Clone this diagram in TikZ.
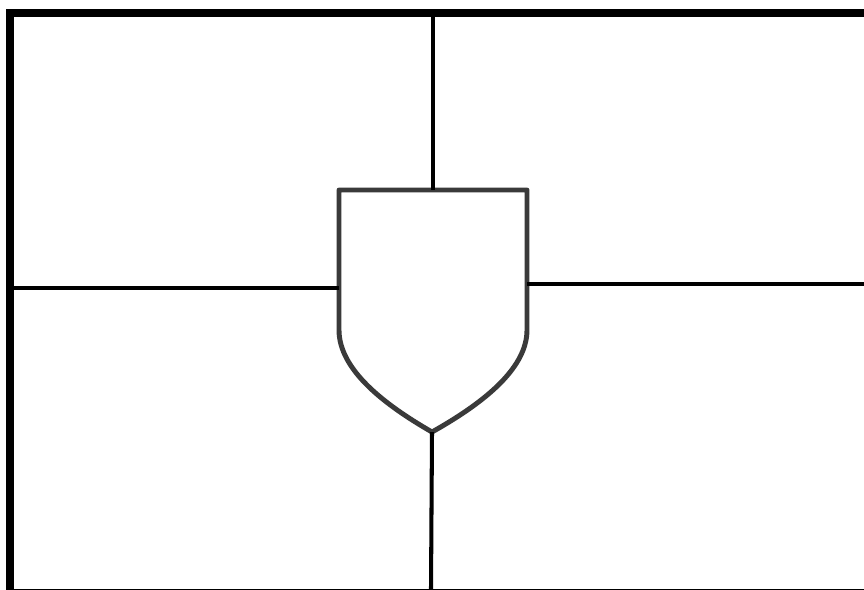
\documentclass[tikz,border=0pt]{standalone}
\usepackage{tikz}
\usetikzlibrary{calc}
\definecolor{shieldgray}{HTML}{3A3A3A}
\tikzset{
	frameline/.style={
			draw=black,
			line width=4.5pt
		},
	divline/.style={
			draw=black,
			line width=2.3pt
		},
	shieldline/.style={
			draw=shieldgray,
			line width=2.8pt,
			line join=round,
			fill=white
		}
}

\begin{document}
\begin{tikzpicture}[x=0.2mm, y=-0.2mm]
\useasboundingbox (0,0) rectangle (864,589);

% outer frame (open on the right)
\draw[frameline] (890,13) -- (10,13) -- (10,593) -- (890,593);

% shield
\coordinate (stl) at (339,190);
\coordinate (str) at (527,190);
\coordinate (stop) at (433,190);
\coordinate (sleft) at (339,288);
\coordinate (sright) at (527,284);
\coordinate (stip) at (432,432);
\draw[shieldline] (stl) -- (str) -- (527,330)
	.. controls (527,370) and (480,405) .. (stip)
	.. controls (385,405) and (339,370) .. (339,330) -- cycle;

% dividing lines
\coordinate (ftop) at (433,13);
\coordinate (fleft) at (10,288);
\coordinate (fright) at (864,284);
\coordinate (fbot) at (431,589);

\draw[divline] (ftop) -- (stop);
\draw[divline] (fleft) -- (sleft);
\draw[divline] (sright) -- (fright);
\draw[divline] (stip) -- (fbot);
\end{tikzpicture}
\end{document}
